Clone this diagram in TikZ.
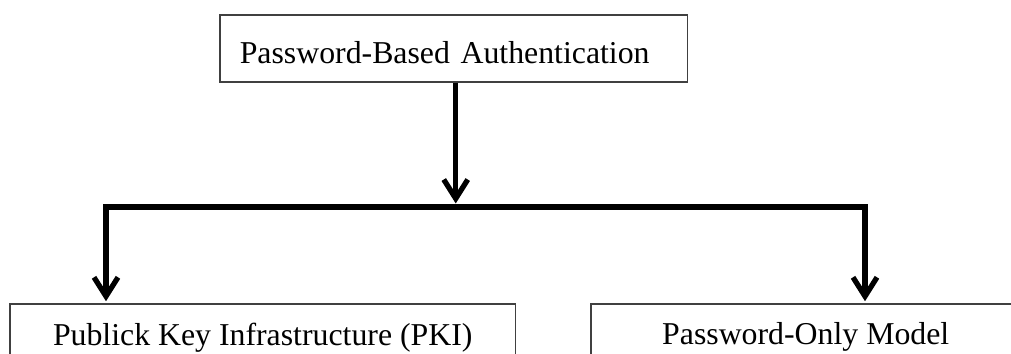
\documentclass[tikz,border=0pt]{standalone}
\usepackage{fontspec}
\setmainfont{Liberation Serif}
\usetikzlibrary{arrows.meta}

\begin{document}
\begin{tikzpicture}[x=0.02cm, y=0.02cm,
		>={Straight Barb[length=0.38cm, width=0.48cm]},
		box/.style={draw=black!75, line width=0.9pt, fill=white, font=\fontsize{18.1}{22}\selectfont},
		conn/.style={line width=3pt, black}]
		\def\xleft{0}
		\def\xright{1011}
		\def\ydown{0}
		\def\yup{354}
		\def\ybus{147}
		\draw[draw=none, use as bounding box] (\xleft, \ydown) rectangle (\xright, \yup);
		\clip (\xleft, \ydown) rectangle (\xright, \yup);
		
		\def\bhgt{1.34cm}
		
		% Boxes
		\node[box, anchor=north west, text width=8.56cm, inner xsep=0.4cm, minimum height=\bhgt, text height=0.62cm, text depth=0pt, align=left] (auth) at (219, 340)
			{Password-Based Authentication};
		
		\node[box, anchor=north west, minimum width=10.12cm, minimum height=\bhgt] (pki) at (9, 51)
			{Publick Key Infrastructure (PKI)};
		
		\node[box, anchor=north west, minimum width=8.6cm, minimum height=\bhgt] (pwonly) at (590, 51)
			{Password-Only Model};
		
		% Bus ends
		\coordinate (busL) at (106, \ybus);
		\coordinate (busR) at (865, \ybus);
		
		% Arrows
		\draw[conn, ->, shorten >=2pt] ([xshift=0.04cm]auth.south) -- ([xshift=0.04cm]auth.south |- busL);
		\draw[conn, <->, shorten >=1pt, shorten <=1pt] (busL |- pki.north) -- (busL) -- (busR) -- (busR |- pwonly.north);
		
	\end{tikzpicture}
\end{document}
